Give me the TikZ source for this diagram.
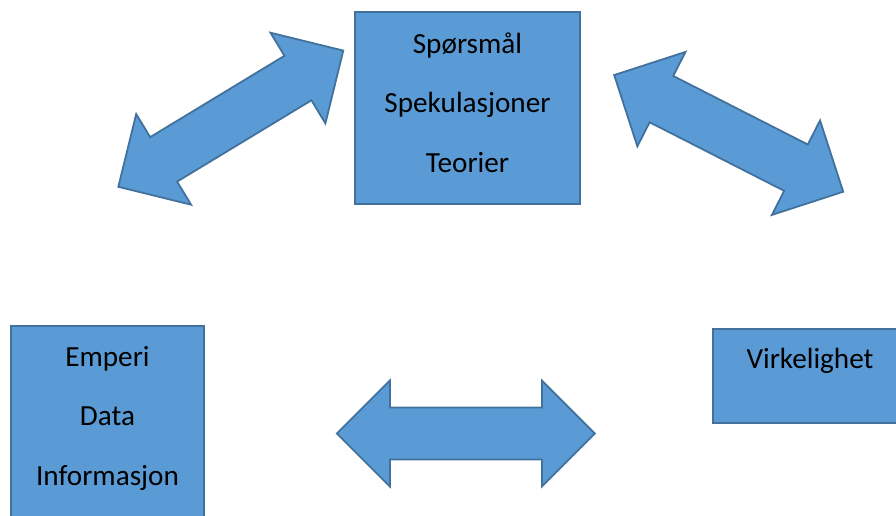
\documentclass[tikz,border=0pt]{standalone}
\usepackage{fontspec}
\setmainfont{Carlito}
\usepackage{tikz}

\definecolor{boxblue}{HTML}{5B9BD5}
\definecolor{boxedge}{HTML}{41719C}

\begin{document}
\begin{tikzpicture}[x=1pt, y=-1pt,
    boxnode/.style={rectangle, draw=boxedge, fill=boxblue, line width=1.6pt, inner sep=0pt},
    boxtext/.style={align=center, font=\fontsize{29.2}{59.5}\selectfont, inner sep=0pt},
    pics/dblarrow/.style={code={
      \draw[draw=boxedge, fill=boxblue, line width=1.8pt, line join=miter]
        (-#1/2,0) -- (-#1/2+53,-53) -- (-#1/2+53,-26) -- (#1/2-53,-26) -- (#1/2-53,-53)
        -- (#1/2,0) -- (#1/2-53,53) -- (#1/2-53,26) -- (-#1/2+53,26) -- (-#1/2+53,53) -- cycle;
    }}]
  \useasboundingbox (0,0) rectangle (896,515);
  \clip (0,0) rectangle (896,515);

  % boxes
  \node (teori) [boxnode, minimum width=225, minimum height=192] at (467.5,108) {};
  \node (empiri) [boxnode, minimum width=193, minimum height=192] at (107.5,422) {};
  \node (virkelighet) [boxnode, minimum width=194, minimum height=94] at (810,376) {};

  \node (teoritekst) [boxtext] at (467.5,102.5) {Spørsmål\\Spekulasjoner\\Teorier};
  \node (empiritekst) [boxtext] at (107.5,418) {Emperi\\Data\\Informasjon};
  \node (virkelighettekst) [boxtext, anchor=base] at (810,368) {Virkelighet};

  % double arrows
  \pic [rotate=31.2] at (230.8,118.7) {dblarrow=263};
  \pic [rotate=-27] at (728.7,133.4) {dblarrow=257};
  \pic at (465.9,433.5) {dblarrow=258};
\end{tikzpicture}
\end{document}
